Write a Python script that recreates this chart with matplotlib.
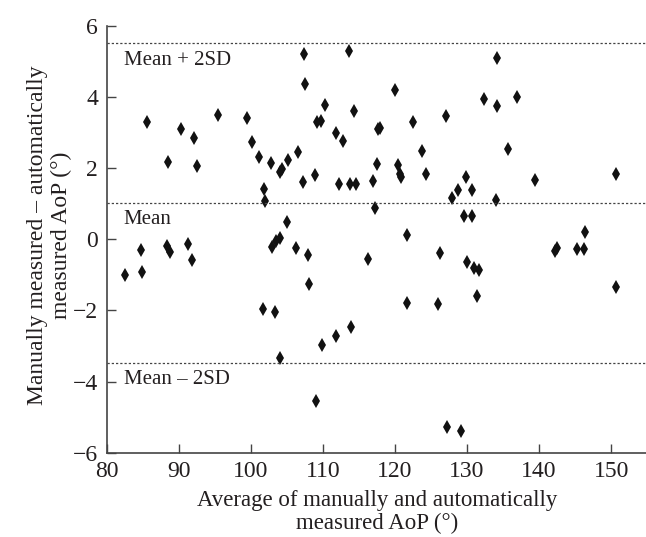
import matplotlib
matplotlib.use("Agg")
import matplotlib.pyplot as plt

plt.rcParams['font.family'] = ['Liberation Serif', 'DejaVu Serif']

# average of manual and automatic AoP (deg)
avg_aop = [
    85.6, 88.5, 90.3, 92.2, 92.5, 95.5, 99.5, 100.2, 101.1, 101.9,
    102.0, 102.8, 104.1, 104.4, 105.2, 106.6, 107.2, 107.4, 107.5, 108.9,
    109.2, 109.8, 110.3, 111.8, 112.8, 112.3, 113.8, 114.6, 113.7, 114.3,
    120.0, 117.6, 118.0, 122.5, 117.5, 117.0, 117.2, 120.4, 120.7, 120.9,
    123.8, 124.3, 127.1, 129.8, 128.8, 127.9, 130.7, 129.6, 130.7, 134.0,
    132.4, 134.1, 134.2, 137.0, 135.7, 139.4, 150.6, 121.7, 146.4,
    82.6, 84.8, 84.9, 88.4, 88.8, 91.3, 91.9, 101.7, 103.4, 104.1,
    102.9, 103.5, 104.0, 105.0, 106.3, 107.9, 108.1, 109.0, 109.9, 111.8,
    113.9, 116.2, 121.7, 126.0, 126.3, 130.0, 131.0, 131.7, 131.4, 127.2,
    129.1, 142.2, 142.5, 145.2, 146.2, 150.7,
]
# manual - automatic AoP (deg)
diff_aop = [
    3.31, 2.17, 3.10, 2.86, 2.06, 3.49, 3.41, 2.74, 2.32, 1.41,
    1.07, 2.15, 1.88, 1.97, 2.24, 2.46, 1.62, 5.21, 4.36, 1.81,
    3.29, 3.34, 3.77, 3.00, 2.77, 1.56, 1.55, 1.55, 5.30, 3.61,
    4.21, 3.10, 3.14, 3.30, 2.13, 1.64, 0.89, 2.10, 1.84, 1.75,
    2.49, 1.85, 3.46, 1.76, 1.38, 1.17, 1.40, 0.66, 0.66, 1.12,
    3.94, 5.11, 3.74, 3.99, 2.53, 1.67, 1.85, 0.11, 0.21,
    -1.00, -0.30, -0.92, -0.18, -0.35, -0.14, -0.59, -1.97, -2.05, -3.35,
    -0.21, -0.05, 0.05, 0.49, -0.23, -0.44, -1.26, -4.56, -2.98, -2.73,
    -2.47, -0.55, -1.80, -1.82, -0.39, -0.65, -0.81, -0.85, -1.59, -5.29,
    -5.38, -0.33, -0.23, -0.27, -0.26, -1.34,
]

mean_diff = 1.03
upper_loa = 5.52
lower_loa = -3.47
ref_lines = [upper_loa, mean_diff, lower_loa]
ref_labels = ["Mean + 2SD", "Mean", "Mean \u2013 2SD"]

ink = '#231f20'

fig = plt.figure(figsize=(6.46, 5.37), dpi=100)
ax = fig.add_axes([0.1649, 0.157, 0.837, 0.7946])

ax.plot(avg_aop, diff_aop, linestyle='none', marker='d', markersize=7,
        color='#111111', markeredgewidth=0)

for yv, lab in zip(ref_lines, ref_labels):
    ax.axhline(yv, color='#444444', linewidth=0.9, linestyle=(0, (1.8, 1.6)))
    ax.annotate(lab, xy=(82.4, yv), xytext=(0, -5.5), textcoords='offset points',
                ha='left', va='top', fontsize=15, color=ink)

ax.set_xlim(80, 155)
ax.set_ylim(-6, 6)
ax.set_xticks([80, 90, 100, 110, 120, 130, 140, 150])
ax.set_yticks([-6, -4, -2, 0, 2, 4, 6])

for side in ['top', 'right']:
    ax.spines[side].set_visible(False)
for side in ['left', 'bottom']:
    ax.spines[side].set_color('#444444')
    ax.spines[side].set_linewidth(1.2)

ax.tick_params(direction='in', length=6.5, width=1.0, color='#444444',
               labelsize=17, labelcolor=ink, pad=6)

ax.set_xlabel("Average of manually and automatically\nmeasured AoP (\u00b0)",
              fontsize=16.5, color=ink, linespacing=1.12, va='center')
ax.xaxis.set_label_coords(0.5, -0.14)
ax.set_ylabel("Manually measured \u2013 automatically\nmeasured AoP (\u00b0)",
              fontsize=17, color=ink, linespacing=1.2, va='center')
ax.yaxis.set_label_coords(-0.106, 0.51)

fig.savefig("out.png", dpi=100)
